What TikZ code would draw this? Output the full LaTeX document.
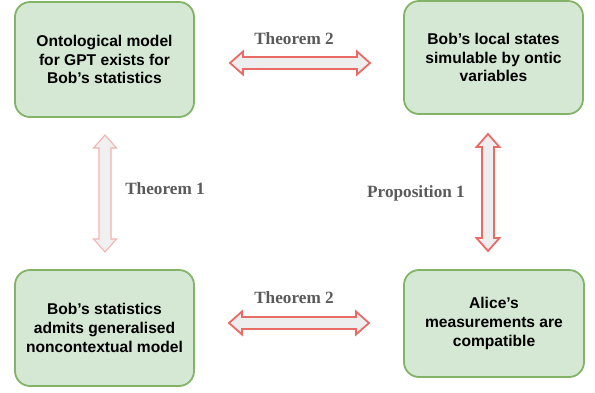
\documentclass[tikz,border=0pt]{standalone}
\usepackage{fontspec}
\setmainfont{Liberation Sans}
\newfontfamily\labfont{Liberation Serif}
\usetikzlibrary{calc}
\definecolor{boxfill}{HTML}{D5E8D4}
\definecolor{boxdraw}{HTML}{82B366}
\definecolor{arrred}{HTML}{EA6B66}
\definecolor{arrfill}{HTML}{EEEEEE}
\definecolor{arrpale}{HTML}{F2B3B1}
\definecolor{arrpalefill}{HTML}{F0F0F0}
\definecolor{labgray}{HTML}{5A5A5A}
\tikzset{
  greenbox/.style={draw=boxdraw, fill=boxfill, line width=1.8pt, rounded corners=15pt,
    align=center, font=\bfseries\fontsize{15.6}{18.6}\selectfont, inner sep=0pt},
  flexred/.style={draw=arrred, fill=arrfill, line width=1.8pt, line join=miter},
  flexpale/.style={draw=arrpale, fill=arrpalefill, line width=1.1pt, line join=miter},
  lab/.style={font=\labfont\bfseries\fontsize{17.2}{20}\selectfont, text=labgray, inner sep=0pt}
}
\begin{document}
\begin{tikzpicture}[x=1pt,y=-1pt]
\useasboundingbox (0,0) rectangle (595,392);
% boxes
\node[greenbox, minimum width=179pt, minimum height=115pt] (A) at (104.5,59.5)
  {Ontological model\\for GPT exists for\\Bob’s statistics};
\node[greenbox, minimum width=179pt, minimum height=113pt] (B) at (493.5,57.5)
  {Bob’s local states\\simulable by ontic\\variables};
\node[greenbox, minimum width=179pt, minimum height=116pt] (C) at (104.5,328)
  {Bob’s statistics\\admits generalised\\noncontextual model};
\node[greenbox, minimum width=180pt, minimum height=107pt] (D) at (494,323.5)
  {Alice’s\\measurements are\\compatible};
% arrow end points
\coordinate (t2a) at (230,63);  \coordinate (t2b) at (370,63);
\coordinate (b2a) at (229,323); \coordinate (b2b) at (369,323);
\coordinate (t1a) at (105,135); \coordinate (t1b) at (105,252);
\coordinate (p1a) at (488,134); \coordinate (p1b) at (488,251);
% horizontal arrows
\foreach \s/\e in {t2a/t2b, b2a/b2b}{
  \draw[flexred] let \p1=(\s), \p2=(\e) in
    (\x1,\y1) -- (\x1+13pt,\y1+11.5pt) -- (\x1+13pt,\y1+6pt) -- (\x2-13pt,\y2+6pt)
    -- (\x2-13pt,\y2+11.5pt) -- (\x2,\y2) -- (\x2-13pt,\y2-11.5pt) -- (\x2-13pt,\y2-6pt)
    -- (\x1+13pt,\y1-6pt) -- (\x1+13pt,\y1-11.5pt) -- cycle;
}
% vertical arrows
\draw[flexpale] let \p1=(t1a), \p2=(t1b) in
    (\x1,\y1) -- (\x1+11.5pt,\y1-13pt) -- (\x1+6pt,\y1-13pt) -- (\x2+6pt,\y2+13pt)
    -- (\x2+11.5pt,\y2+13pt) -- (\x2,\y2) -- (\x2-11.5pt,\y2+13pt) -- (\x2-6pt,\y2+13pt)
    -- (\x1-6pt,\y1-13pt) -- (\x1-11.5pt,\y1-13pt) -- cycle;
\draw[flexred] let \p1=(p1a), \p2=(p1b) in
    (\x1,\y1) -- (\x1+11.5pt,\y1-13pt) -- (\x1+6pt,\y1-13pt) -- (\x2+6pt,\y2+13pt)
    -- (\x2+11.5pt,\y2+13pt) -- (\x2,\y2) -- (\x2-11.5pt,\y2+13pt) -- (\x2-6pt,\y2+13pt)
    -- (\x1-6pt,\y1-13pt) -- (\x1-11.5pt,\y1-13pt) -- cycle;
% labels
\node[lab] (L1) at (294,39) {Theorem 2};
\node[lab] (L2) at (294,298) {Theorem 2};
\node[lab] (L3) at (165,189) {Theorem 1};
\node[lab] (L4) at (416,193) {Proposition 1};
\end{tikzpicture}
\end{document}
